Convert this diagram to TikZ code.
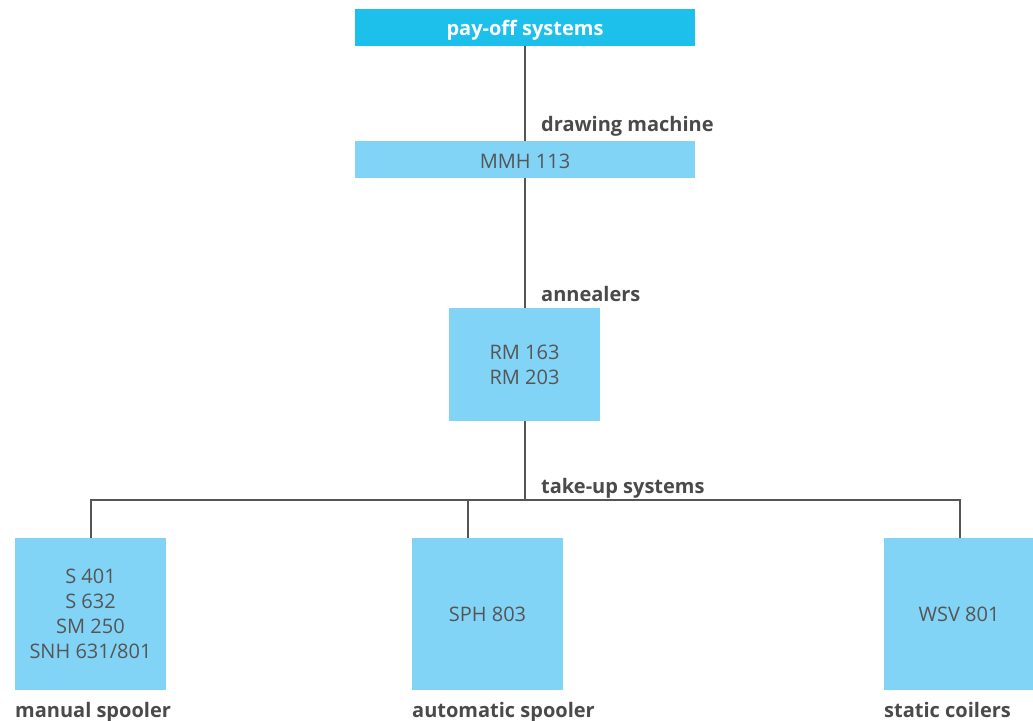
\documentclass[tikz,border=0pt]{standalone}
\usepackage{fontspec}
\setmainfont{Open Sans}
\definecolor{topblue}{HTML}{1DC0EB}
\definecolor{lightblue}{HTML}{82D4F7}
\definecolor{txtgray}{HTML}{555555}
\definecolor{lblgray}{HTML}{4A4A4A}
\definecolor{linegray}{HTML}{555555}
\tikzset{
  box/.style={rectangle, fill=lightblue, inner sep=0pt, text=txtgray, align=center, font=\fontsize{20}{25}\selectfont},
  topbox/.style={rectangle, fill=topblue, inner sep=0pt, text=white, font=\fontsize{20}{25}\selectfont\bfseries},
  lbl/.style={inner sep=0pt, text=lblgray, font=\fontsize{20}{25}\selectfont\bfseries},
  conn/.style={draw=linegray, line width=1.4pt}
}
\begin{document}
\begin{tikzpicture}[x=1pt,y=-1pt]
\useasboundingbox (0,0) rectangle (1033,720);
% boxes
\node[topbox, minimum width=340pt, minimum height=37pt, text height=15pt, text depth=0pt] (pay) at (525,27.5) {pay-off systems};
\node[box, minimum width=340pt, minimum height=37pt, text height=17pt, text depth=0pt] (mmh) at (525,159.5) {MMH 113};
\node[box, minimum width=151pt, minimum height=113pt] (rm) at (524.5,364.5) {RM 163\\RM 203};
\node[box, minimum width=151pt, minimum height=152pt] (b1) at (90.5,614) {S 401\\S 632\\SM 250\\SNH 631/801};
\node[box, minimum width=151pt, minimum height=152pt] (b2) at (487.5,614) {SPH 803};
\node[box, minimum width=150pt, minimum height=152pt] (b3) at (959,614) {WSV 801};
% labels
\node[lbl, anchor=base west] (l1) at (541,131) {drawing machine};
\node[lbl, anchor=base west] (l2) at (541,301) {annealers};
\node[lbl, anchor=base west] (l3) at (541,493) {take-up systems};
\node[lbl, anchor=base west] (l4) at (15,717) {manual spooler};
\node[lbl, anchor=base west] (l5) at (412,717) {automatic spooler};
\node[lbl, anchor=base west] (l6) at (884,717) {static coilers};
% connectors
\coordinate (j) at (525,500);
\coordinate (c1) at (91,500);
\coordinate (c2) at (468,500);
\coordinate (c3) at (960,500);
\draw[conn] (pay.south) -- (mmh.north);
\draw[conn] (mmh.south) -- (mmh.south |- rm.north);
\draw[conn] (rm.south -| j) -- (j);
\draw[conn] (c1 |- b1.north) -- (c1) -- (c3) -- (c3 |- b3.north);
\draw[conn] (c2) -- (c2 |- b2.north);
\end{tikzpicture}
\end{document}
